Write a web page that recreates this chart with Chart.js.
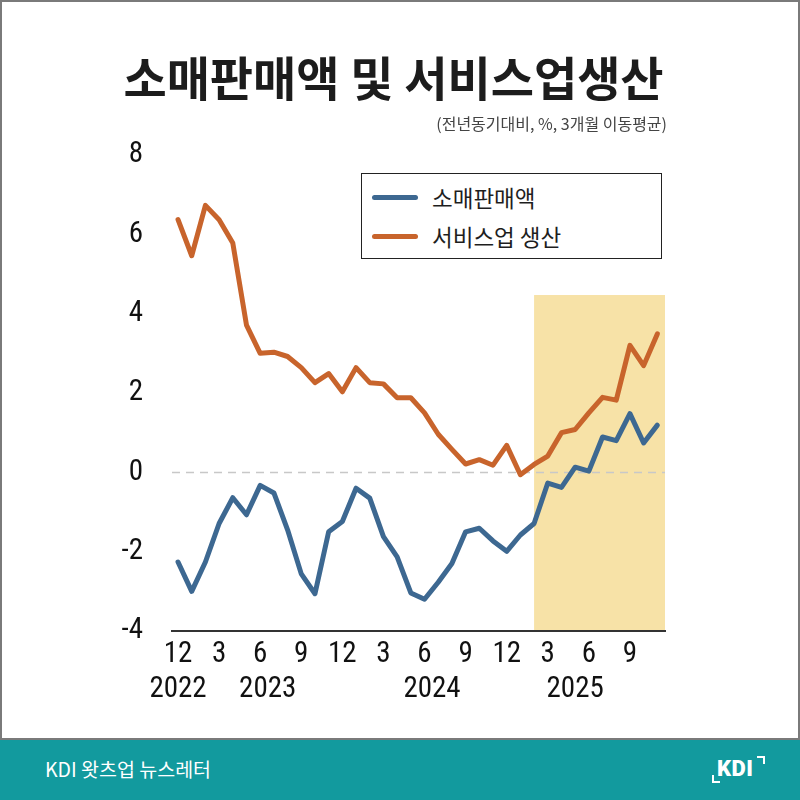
<!DOCTYPE html>
<html>
<head>
<meta charset="utf-8">
<script src="https://cdn.jsdelivr.net/npm/chart.js@4.4.1/dist/chart.umd.min.js"></script>
<style>
  html, body { margin:0; padding:0; width:800px; height:800px; overflow:hidden; background:#fff; }
  #frame { position:absolute; left:0; top:0; width:796px; height:736px; border:2px solid #7a7a7a; background:#fff; }
  #chart { position:absolute; left:0; top:0; }
  .cjk { font-family:"Noto Sans CJK KR", "Noto Sans", sans-serif; }
  #title { position:absolute; left:0; width:787px; top:52px; text-align:center; font-size:47px; line-height:47px; font-weight:700; color:#1c1c1c; white-space:nowrap; }
  #subtitle { position:absolute; right:133px; top:113px; font-size:16px; line-height:20px; color:#444; white-space:nowrap; }
  #legend { position:absolute; left:361px; top:173px; width:299px; height:84px; border:1.5px solid #222; background:#fff; }
  .lg-item { position:absolute; left:10px; height:30px; }
  .lg-line { position:absolute; left:0; width:46px; height:5px; border-radius:3px; top:12px; }
  .lg-text { position:absolute; left:60px; top:-1px; font-size:22.5px; line-height:30px; color:#1e1e1e; font-weight:400; white-space:nowrap; }
  #footer { position:absolute; left:0; top:740px; width:800px; height:60px; background:#129a9e; }
  #ftext { position:absolute; left:45px; top:17px; font-size:19.5px; line-height:24px; color:#fff; white-space:nowrap; }
  #logo { position:absolute; left:717px; top:14px; font-family:Roboto, "Liberation Sans", sans-serif; font-weight:900; font-size:22px; line-height:30px; color:#fff; letter-spacing:0.5px; }
  #br1 { position:absolute; left:757px; top:16px; width:6px; height:6px; border-top:2px solid #fff; border-right:2px solid #fff; }
  #br2 { position:absolute; left:712px; top:35px; width:6px; height:6px; border-bottom:2px solid #fff; border-left:2px solid #fff; }
</style>
</head>
<body>
<div id="frame"></div>
<canvas id="chart" width="800" height="740"></canvas>
<div id="title" class="cjk">소매판매액 및 서비스업생산</div>
<div id="subtitle" class="cjk">(전년동기대비, %, 3개월 이동평균)</div>
<div id="legend"></div>
<div id="footer">
  <div id="ftext" class="cjk">KDI 왓츠업 뉴스레터</div>
  <div id="br1"></div><div id="br2"></div>
  <div id="logo">KDI</div>
</div>
<script>
// ---- data ----
const categories = [
  '2022.12',
  '2023.01','2023.02','2023.03','2023.04','2023.05','2023.06','2023.07','2023.08','2023.09','2023.10','2023.11','2023.12',
  '2024.01','2024.02','2024.03','2024.04','2024.05','2024.06','2024.07','2024.08','2024.09','2024.10','2024.11','2024.12',
  '2025.01','2025.02','2025.03','2025.04','2025.05','2025.06','2025.07','2025.08','2025.09','2025.10','2025.11'
];
const seriesNames = ['소매판매액', '서비스업 생산'];
const retailSales = [
  -2.26,
  -3.00, -2.26, -1.29, -0.64, -1.07, -0.33, -0.52, -1.45, -2.56, -3.06, -1.50, -1.24,
  -0.40, -0.65, -1.62, -2.13, -3.04, -3.20, -2.77, -2.30, -1.50, -1.41, -1.73, -1.99,
  -1.58, -1.29, -0.27, -0.38, 0.13, 0.03, 0.89, 0.80, 1.48, 0.74, 1.19
];
const serviceOutput = [
  6.37,
  5.46, 6.73, 6.37, 5.78, 3.71, 3.00, 3.03, 2.92, 2.64, 2.26, 2.49, 2.03,
  2.64, 2.26, 2.23, 1.88, 1.88, 1.50, 0.96, 0.58, 0.21, 0.32, 0.18, 0.68,
  -0.06, 0.20, 0.41, 1.00, 1.08, 1.50, 1.89, 1.82, 3.20, 2.69, 3.49
];
const yTickValues = [-4, -2, 0, 2, 4, 6, 8];
const xTickEvery = 3;                       // label every third month
const yearLabels = ['2022', '2023', '2024', '2025'];
const yearAnchors = [0, 6.55, 18.55, 29];   // month index under which each year label sits
const shadeStartIndex = 26;                 // highlighted period starts Feb 2025
const shadeTopValue = 4.47;

const blue = '#3d6891';
const orange = '#c8642c';
const tickFont = { family: "'Liberation Sans Narrow', 'Roboto Condensed', Roboto, sans-serif", size: 29 };

const shadePlugin = {
  id: 'shade',
  beforeDraw(chart) {
    const { ctx, chartArea, scales } = chart;
    const x0 = scales.x.getPixelForValue(shadeStartIndex);
    const y0 = scales.y.getPixelForValue(shadeTopValue);
    const y1 = scales.y.getPixelForValue(-4);
    ctx.save();
    ctx.fillStyle = '#f7e2a7';
    ctx.fillRect(x0, y0, chartArea.right - x0, y1 - y0);
    ctx.restore();
  },
  beforeDatasetsDraw(chart) {
    const { ctx, chartArea, scales } = chart;
    const y = Math.round(scales.y.getPixelForValue(0)) + 0.5;
    ctx.save();
    ctx.strokeStyle = '#c8c8c8';
    ctx.lineWidth = 1.5;
    ctx.setLineDash([8, 6]);
    ctx.beginPath();
    ctx.moveTo(chartArea.left, y);
    ctx.lineTo(chartArea.right, y);
    ctx.stroke();
    ctx.restore();
  },
  afterDraw(chart) {
    const { ctx, scales } = chart;
    ctx.save();
    ctx.fillStyle = '#111';
    ctx.font = tickFont.size + 'px ' + tickFont.family;
    ctx.textAlign = 'center';
    ctx.textBaseline = 'middle';
    yearLabels.forEach((t, i) => {
      ctx.fillText(t, scales.x.getPixelForValue(yearAnchors[i]), 690);
    });
    ctx.restore();
  }
};

const chart = new Chart(document.getElementById('chart'), {
  type: 'line',
  data: {
    datasets: [
      { label: seriesNames[0], data: retailSales.map((v, i) => ({ x: i, y: v })), borderColor: blue, backgroundColor: blue },
      { label: seriesNames[1], data: serviceOutput.map((v, i) => ({ x: i, y: v })), borderColor: orange, backgroundColor: orange }
    ]
  },
  options: {
    responsive: false,
    animation: false,
    devicePixelRatio: 1,
    layout: { padding: { left: 0, right: 135, top: 155, bottom: 0 } },
    elements: {
      line: { borderWidth: 5, tension: 0, borderJoinStyle: 'round', borderCapStyle: 'round' },
      point: { radius: 0, hoverRadius: 0 }
    },
    plugins: { legend: { display: false }, tooltip: { enabled: false }, title: { display: false } },
    scales: {
      x: {
        type: 'linear',
        min: -0.44,
        max: 35.56,
        grid: { display: false, drawTicks: false },
        border: { display: true, color: '#333', width: 2 },
        afterBuildTicks(s) {
          s.ticks = categories.map((c, i) => i).filter(i => i % xTickEvery === 0).map(v => ({ value: v }));
        },
        afterFit(s) { s.height = 109; },
        ticks: {
          autoSkip: false, maxRotation: 0, padding: 6, color: '#111', font: tickFont,
          callback: (v) => String(parseInt(categories[v].split('.')[1], 10))
        }
      },
      y: {
        min: -4, max: 8,
        grid: { display: false, drawTicks: false },
        border: { display: false },
        afterBuildTicks(s) { s.ticks = yTickValues.map(v => ({ value: v })); },
        afterFit(s) { s.width = 172; },
        ticks: { padding: 29, color: '#111', font: tickFont }
      }
    }
  },
  plugins: [shadePlugin]
});

// legend built from the chart's datasets
const lg = document.getElementById('legend');
chart.data.datasets.forEach((ds, i) => {
  const item = document.createElement('div');
  item.className = 'lg-item';
  item.style.top = (9 + i * 39) + 'px';
  item.innerHTML = '<div class="lg-line" style="background:' + ds.borderColor + '"></div><div class="lg-text cjk">' + ds.label + '</div>';
  lg.appendChild(item);
});
</script>
</body>
</html>
